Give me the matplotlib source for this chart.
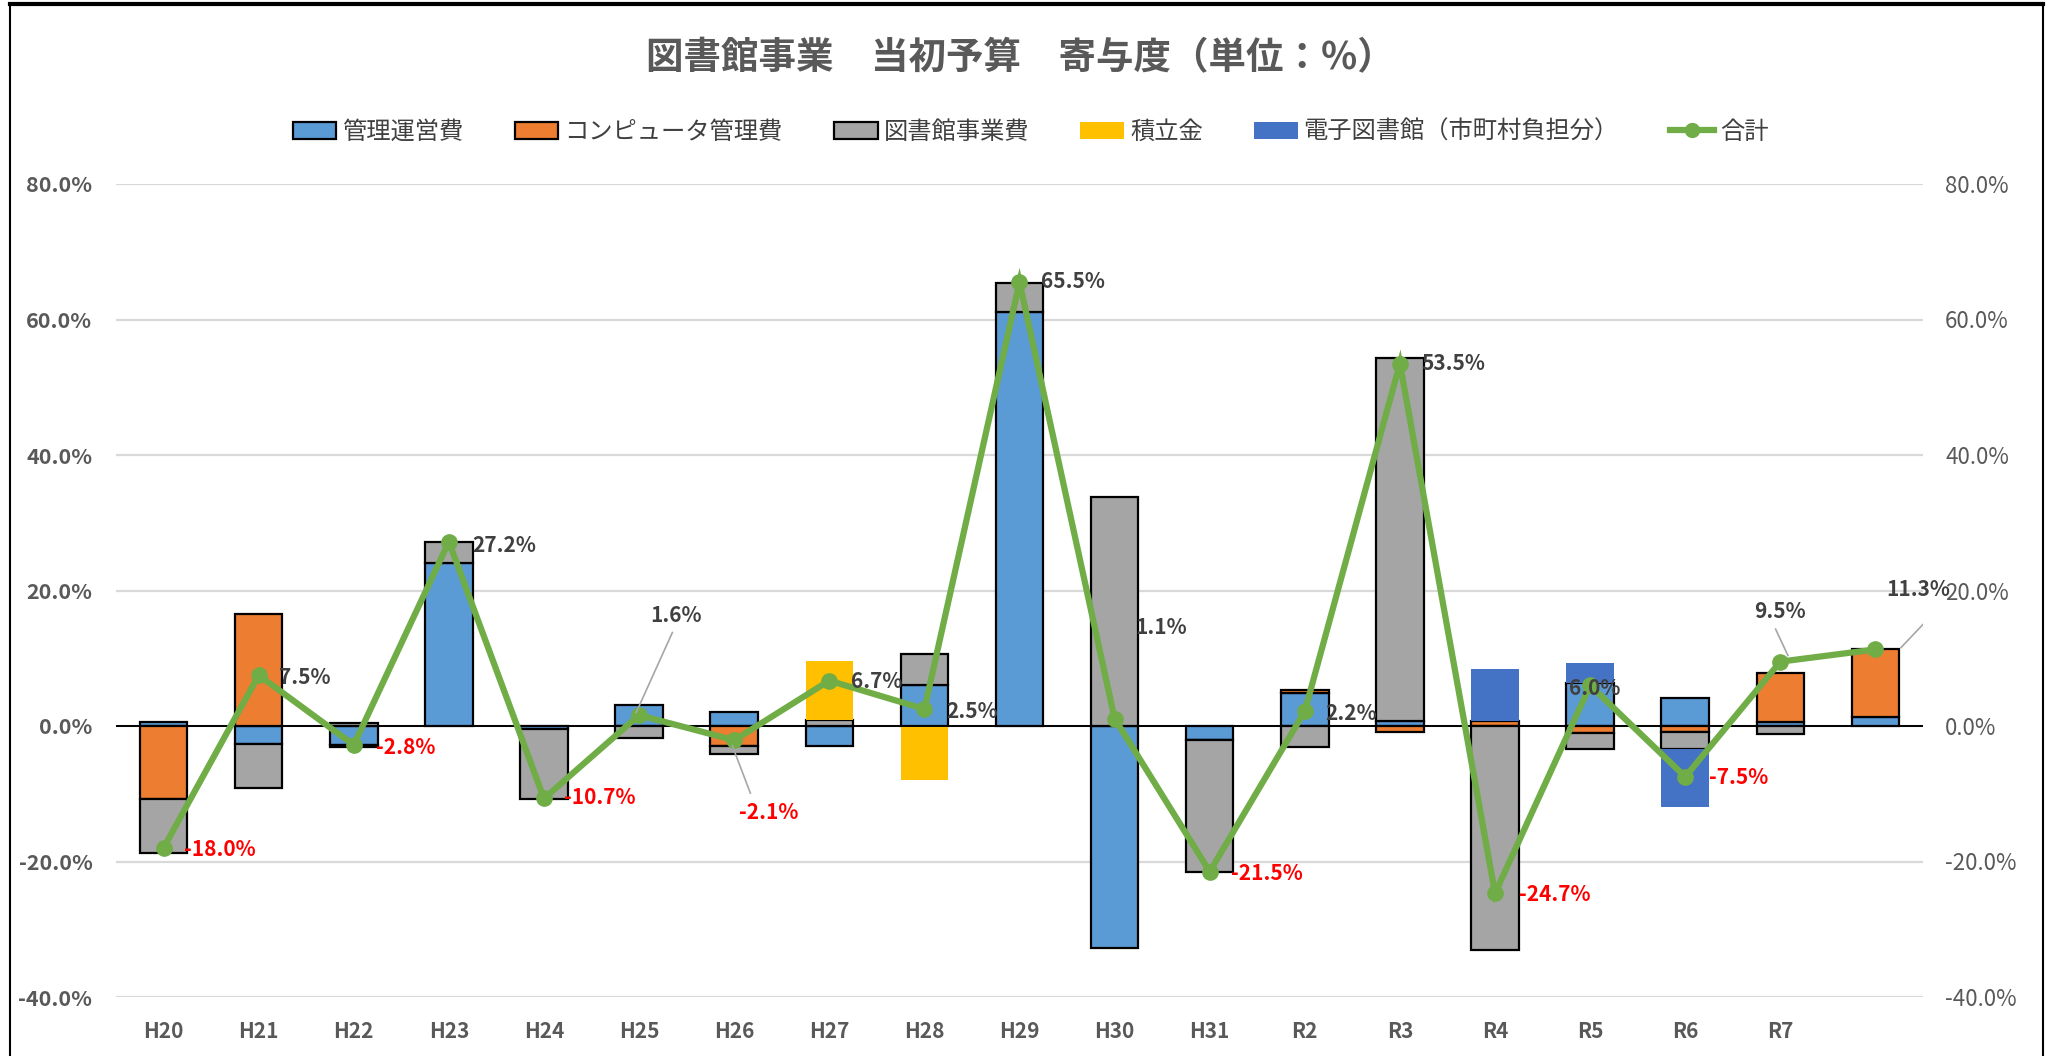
import numpy as np
import matplotlib
matplotlib.use("Agg")
import matplotlib.pyplot as plt
from matplotlib.lines import Line2D
from matplotlib.patches import Patch
from matplotlib.ticker import FuncFormatter

plt.rcParams['font.family'] = ['Noto Sans CJK JP', 'DejaVu Sans']

# データ（寄与度 %）
years = ['H20', 'H21', 'H22', 'H23', 'H24', 'H25', 'H26', 'H27', 'H28', 'H29',
         'H30', 'H31', 'R2', 'R3', 'R4', 'R5', 'R6', 'R7', '']
kanri = [0.6, -2.6, -2.8, 24.1, -0.5, 3.1, 2.0, -3.0, 6.1, 61.1,
         -32.7, -2.0, 4.8, 0.8, 0.0, 6.4, 4.1, 0.6, 1.4]
computer = [-10.8, 16.6, -0.3, 0.0, 0.0, 0.0, -2.9, 0.0, 0.0, 0.0,
            0.0, -0.1, 0.5, -0.9, 0.8, -1.1, -0.9, 7.2, 9.9]
jigyo = [-8.0, -6.5, 0.5, 3.1, -10.3, -1.7, -1.2, 0.9, 4.5, 4.3,
         33.8, -19.4, -3.1, 53.5, -33.1, -2.35, -2.5, -1.2, 0.0]
tsumitate = [0.0, 0.0, 0.0, 0.0, 0.0, 0.0, 0.0, 8.7, -8.0, 0.0,
             0.0, 0.0, 0.0, 0.0, 0.0, 0.0, 0.0, 0.0, 0.0]
denshi = [0.0, 0.0, 0.0, 0.0, 0.0, 0.0, 0.0, 0.0, 0.0, 0.0,
          0.0, 0.0, 0.0, 0.0, 7.6, 2.9, -8.5, 0.0, 0.0]
total = [-18.0, 7.5, -2.8, 27.2, -10.7, 1.6, -2.1, 6.7, 2.5, 65.5,
         1.1, -21.5, 2.2, 53.5, -24.7, 6.0, -7.5, 9.5, 11.3]

series = [
    ('管理運営費', kanri, '#5B9BD5', 'black'),
    ('コンピュータ管理費', computer, '#ED7D31', 'black'),
    ('図書館事業費', jigyo, '#A5A5A5', 'black'),
    ('積立金', tsumitate, '#FFC000', 'none'),
    ('電子図書館（市町村負担分）', denshi, '#4472C4', 'none'),
]

W, H = 2065, 1056
fig = plt.figure(figsize=(W / 100, H / 100), dpi=100)
ax = fig.add_axes([116 / W, 1 - 997 / H, (1923 - 116) / W, (997 - 184) / H])

x = np.arange(len(years))
pos_base = np.zeros(len(years))
neg_base = np.zeros(len(years))
for name, vals, color, edge in series:
    v = np.array(vals, dtype=float)
    bottom = np.where(v >= 0, pos_base, neg_base)
    m = v != 0
    ax.bar(x[m], v[m], bottom=bottom[m], width=0.5, color=color,
           edgecolor=edge, linewidth=1.6, zorder=3)
    pos_base += np.where(v > 0, v, 0)
    neg_base += np.where(v < 0, v, 0)

ax.axhline(0, color='black', linewidth=1.4, zorder=4)
ax.plot(x, total, color='#70AD47', linewidth=4.5, marker='o', markersize=11,
        zorder=5, solid_joinstyle='miter')

ax.set_xlim(-0.5, len(years) - 0.5)
ax.set_ylim(-40, 80)
ax.set_yticks(np.arange(-40, 81, 20))
fmt = FuncFormatter(lambda v, p: f'{v:.1f}%')
ax.yaxis.set_major_formatter(fmt)
ax.grid(axis='y', color='#D9D9D9', linewidth=1.6, zorder=0)
ax.set_axisbelow(True)
for s in ax.spines.values():
    s.set_visible(False)
ax.set_xticks(x)
ax.set_xticklabels(years)
ax.tick_params(axis='both', length=0)
ax.tick_params(axis='x', pad=17, labelsize=15, labelcolor='#595959')
ax.tick_params(axis='y', pad=17, labelsize=15.5, labelcolor='#595959')
for t in ax.get_xticklabels() + ax.get_yticklabels():
    t.set_fontweight('bold')

ax2 = ax.twinx()
ax2.set_ylim(-40, 80)
ax2.set_yticks(np.arange(-40, 81, 20))
ax2.yaxis.set_major_formatter(fmt)
ax2.tick_params(axis='y', length=0, pad=16, labelsize=16, labelcolor='#595959')
for s in ax2.spines.values():
    s.set_visible(False)

# 合計のデータラベル位置（x, y）
label_pos = [(0.59, -18.3), (1.48, 7.2), (2.55, -3.1), (3.58, 26.6), (4.59, -10.6),
             (5.39, 16.3), (6.36, -12.8), (7.5, 6.6), (8.5, 2.1), (9.56, 65.6),
             (10.49, 14.6), (11.6, -21.7), (12.49, 1.9), (13.56, 53.5), (14.63, -24.8),
             (15.05, 5.6), (16.56, -7.6), (17.0, 16.9), (18.45, 20.1)]
leaders = {5: ((5.35, 13.8), (4.97, 2.0)), 6: ((6.17, -9.9), (5.98, -2.9)),
           17: ((16.95, 14.3), (17.08, 10.4)), 18: ((18.67, 17.5), (18.27, 11.6))}
for i, (val, (lx, ly)) in enumerate(zip(total, label_pos)):
    col = '#FF0000' if val < 0 else '#404040'
    ax.text(lx, ly, f'{val:.1f}%', ha='center', va='center', fontsize=15,
            fontweight='bold', color=col, zorder=6)
    if i in leaders:
        (x0, y0), (x1, y1) = leaders[i]
        ax.plot([x0, x1], [y0, y1], color='#A6A6A6', linewidth=1.2, zorder=6)

fig.text(0.494, 0.945, '図書館事業　当初予算　寄与度（単位：%）', ha='center', va='center',
         fontsize=27, fontweight='bold', color='#595959')

handles = [Patch(facecolor=c, edgecolor=e, linewidth=1.6, label=n) for n, _, c, e in series]
handles.append(Line2D([0], [0], color='#70AD47', linewidth=4.5, marker='o',
                      markersize=10, label='合計'))
fig.legend(handles=handles, loc='center', bbox_to_anchor=(0.499, 0.875), ncol=6,
           frameon=False, fontsize=17.5, handlelength=1.8, handleheight=0.7,
           handletextpad=0.25, columnspacing=2.1, labelcolor='#404040')

# 外枠
fig.add_artist(Line2D([10 / W, 2043 / W], [1 - 4 / H, 1 - 4 / H], color='black', linewidth=3))
fig.add_artist(Line2D([10 / W, 10 / W], [0, 1 - 4 / H], color='black', linewidth=1.5))
fig.add_artist(Line2D([2043 / W, 2043 / W], [0, 1 - 4 / H], color='black', linewidth=1.5))

fig.savefig('out.png', dpi=100, facecolor='white')
